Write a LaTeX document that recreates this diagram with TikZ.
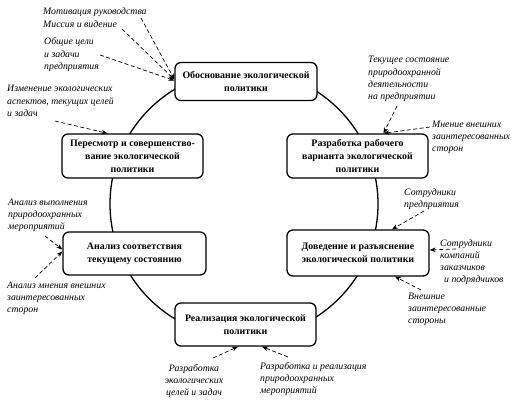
\documentclass[tikz,border=0pt]{standalone}
\usepackage{fontspec}
\setmainfont{Liberation Serif}
\usetikzlibrary{arrows.meta}
\begin{document}
\begin{tikzpicture}[x=1pt,y=-1pt,
  box/.style={draw, line width=1.3pt, rounded corners=6pt, fill=white,
    font=\bfseries\fontsize{9.9}{13}\selectfont, align=center, inner sep=0pt},
  lab/.style={font=\itshape\fontsize{9.8}{12.3}\selectfont, align=left, inner sep=0pt, anchor=base west},
  arr/.style={dash pattern=on 4pt off 2.5pt, line width=0.7pt, -{Stealth[length=6pt,width=4.5pt]}},
  ring/.style={line width=1.3pt}]
\useasboundingbox (0,0) rectangle (519,401);
\coordinate (cc) at (244,204);
\draw[ring] (cc) circle[radius=134];
\node[box, minimum width=142pt, minimum height=38pt] (b1) at (246,81.5) {Обоснование экологической\\политики};
\node[box, minimum width=141pt, minimum height=44pt] (b2) at (357.5,156) {Разработка рабочего\\варианта экологической\\политики};
\node[box, minimum width=142pt, minimum height=46pt] (b3) at (358,253) {Доведение и разъяснение\\экологической политики};
\node[box, minimum width=141pt, minimum height=43pt] (b4) at (245.5,324.5) {Реализация экологической\\политики};
\node[box, minimum width=143pt, minimum height=43pt] (b5) at (134.5,253.5) {Анализ соответствия\\текущему состоянию};
\node[box, minimum width=141pt, minimum height=44pt] (b6) at (132.5,156) {Пересмотр и совершенство-\\вание экологической\\политики};
% labels (anchored at the baseline of the last line)
\node[lab] (l1) at (43,27.3) {Мотивация руководства\\Миссия и видение};
\node[lab] (l2) at (44,69.6) {Общие цели\\и задачи\\предприятия};
\node[lab] (l3) at (7,116.6) {Изменение экологических\\аспектов, текущих целей\\и задач};
\node[lab] (l4) at (368,99.9) {Текущее состояние\\природоохранной\\деятельности\\на предприятии};
\node[lab] (l5) at (432,151.6) {Мнение внешних\\заинтересованных\\сторон};
\node[lab] (l6) at (404,207.3) {Сотрудники\\предприятия};
\node[lab] (l7) at (440,282.9) {Сотрудники\\компаний\\заказчиков\\\hspace*{4pt}и подрядчиков};
\node[lab] (l8) at (408,323.6) {Внешние\\заинтересованные\\стороны};
\node[lab] (l9) at (8,229.6) {Анализ выполнения\\природоохранных\\мероприятий};
\node[lab] (l10) at (7,312.6) {Анализ мнения внешних\\заинтересованных\\сторон};
\node[lab, align=center, anchor=base] (l11) at (194,395.6) {Разработка\\экологических\\целей и задач};
\node[lab] (l12) at (260,393.6) {Разработка и реализация\\природоохранных\\мероприятий};
% free ends
\coordinate (s1) at (141,18);
\coordinate (s2) at (122,29);
\coordinate (s3) at (100,55);
\coordinate (s4) at (55,121);
\coordinate (s5) at (397,106);
\coordinate (s6) at (430,127);
\coordinate (s7) at (424,211);
\coordinate (s8) at (456,249);
\coordinate (s9) at (421,290);
\coordinate (s10) at (45,236);
\coordinate (s11) at (35,278);
\coordinate (s12) at (213,358);
\coordinate (s13) at (288,357);
% arrows
\draw[arr] (s1) -- ([yshift=2pt]b1.west);
\draw[arr] (s2) -- ([yshift=2pt]b1.west);
\draw[arr] (s3) -- ([yshift=1pt]b1.west);
\draw[arr] (s4) -- ([xshift=-25pt]b6.north);
\draw[arr] (s5) -- ([xshift=26pt]b2.north);
\draw[arr] (s6) -- ([xshift=26pt]b2.north);
\draw[arr] (s7) -- ([xshift=34pt]b3.north);
\draw[arr] (s8) -- ([yshift=3pt]b3.east);
\draw[arr] (s9) -- ([xshift=37pt]b3.south);
\draw[arr] (s10) -- ([yshift=4pt]b5.west);
\draw[arr] (s11) -- ([yshift=2pt]b5.west);
\draw[arr] (s12) -- ([xshift=-7.5pt]b4.south);
\draw[arr] (s13) -- ([xshift=16.5pt]b4.south);
\end{tikzpicture}
\end{document}
